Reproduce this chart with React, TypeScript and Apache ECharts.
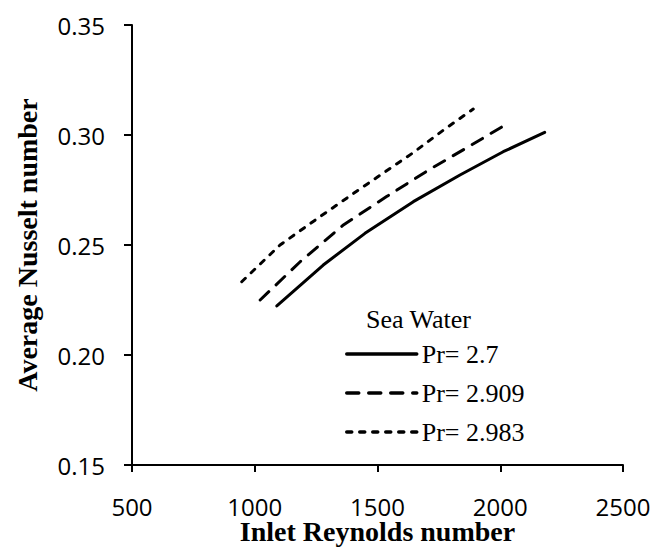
import { useEffect, useRef } from "react";
import * as echarts from "echarts";

const xTicks = [500, 1000, 1500, 2000, 2500];
const yTicks = [0.15, 0.2, 0.25, 0.3, 0.35];
const legendTitle = "Sea Water";
const seriesNames = ["Pr= 2.7", "Pr= 2.909", "Pr= 2.983"];
const re27 = [1090, 1279, 1449, 1646, 1836, 2012, 2181];
const nu27 = [0.2223, 0.2409, 0.2553, 0.2697, 0.2818, 0.2924, 0.3012];
const re2909 = [1022, 1185, 1361, 1537, 1713, 1876, 2019];
const nu2909 = [0.225, 0.2424, 0.2591, 0.272, 0.2844, 0.295, 0.3045];
const re2983 = [947, 1103, 1266, 1442, 1646, 1768, 1890];
const nu2983 = [0.2333, 0.25, 0.2629, 0.2765, 0.292, 0.3022, 0.3118];

const zip = (xs: number[], ys: number[]) => xs.map((x, i) => [x, ys[i]]);

export default function App() {
  const ref = useRef<HTMLDivElement>(null);
  useEffect(() => {
    if (!ref.current) return;
    const chart = echarts.init(ref.current, null, { renderer: "svg" });
    const serif = "'Liberation Serif', 'Times New Roman', serif";
    const sans = "'Open Sans', 'Liberation Sans', sans-serif";
    const dashes: any[] = ["solid", [12, 10], [5, 8]];
    const datas = [zip(re27, nu27), zip(re2909, nu2909), zip(re2983, nu2983)];
    chart.setOption({
      animation: false,
      backgroundColor: "#ffffff",
      grid: {
        left: 132,
        right: 29,
        top: 25,
        bottom: 85,
        containLabel: false,
        outerBoundsMode: "none",
      },
      xAxis: {
        type: "value",
        min: xTicks[0],
        max: xTicks[xTicks.length - 1],
        interval: xTicks[1] - xTicks[0],
        name: "Inlet Reynolds number",
        nameLocation: "middle",
        nameGap: 52,
        nameMoveOverlap: false,
        nameTextStyle: { fontFamily: serif, fontWeight: "bold", fontSize: 28, color: "#000" },
        axisLine: { lineStyle: { color: "#000", width: 2 } },
        axisTick: { show: true, inside: false, length: 7, lineStyle: { color: "#000", width: 2 } },
        axisLabel: {
          margin: 29,
          fontFamily: sans,
          fontSize: 24,
          color: "#000",
          formatter: (v: number) => String(v),
        },
        splitLine: { show: false },
      },
      yAxis: {
        type: "value",
        min: yTicks[0],
        max: yTicks[yTicks.length - 1],
        interval: 0.05,
        name: "Average Nusselt number",
        nameLocation: "middle",
        nameRotate: 90,
        nameGap: 91,
        nameTextStyle: { fontFamily: serif, fontWeight: "bold", fontSize: 28, color: "#000" },
        axisLine: { show: true, lineStyle: { color: "#000", width: 2 } },
        axisTick: { show: true, inside: false, length: 8, lineStyle: { color: "#000", width: 2 } },
        axisLabel: {
          margin: 27,
          fontFamily: sans,
          fontSize: 24,
          color: "#000",
          formatter: (v: number) => v.toFixed(2),
        },
        splitLine: { show: false },
      },
      legend: {
        orient: "vertical",
        left: 345,
        top: 341,
        padding: 0,
        itemWidth: 70,
        itemHeight: 14,
        itemGap: 13,
        data: seriesNames,
        textStyle: { fontFamily: serif, fontSize: 26, color: "#000" },
        itemStyle: { opacity: 0 },
        lineStyle: { width: 3.5 },
      },
      graphic: [
        {
          type: "text",
          left: 366,
          top: 306,
          style: { text: legendTitle, font: `26px ${serif}`, fill: "#000" },
        },
      ],
      series: seriesNames.map((name, i) => ({
        name,
        type: "line",
        data: datas[i],
        symbol: "none",
        smooth: false,
        lineStyle: { color: "#000", width: 3, type: dashes[i], cap: "round" },
        itemStyle: { color: "#000" },
      })),
    });
    return () => chart.dispose();
  }, []);
  return (
    <div
      ref={ref}
      style={{ position: "fixed", left: 0, top: 0, width: 652, height: 550, background: "#fff" }}
    />
  );
}
